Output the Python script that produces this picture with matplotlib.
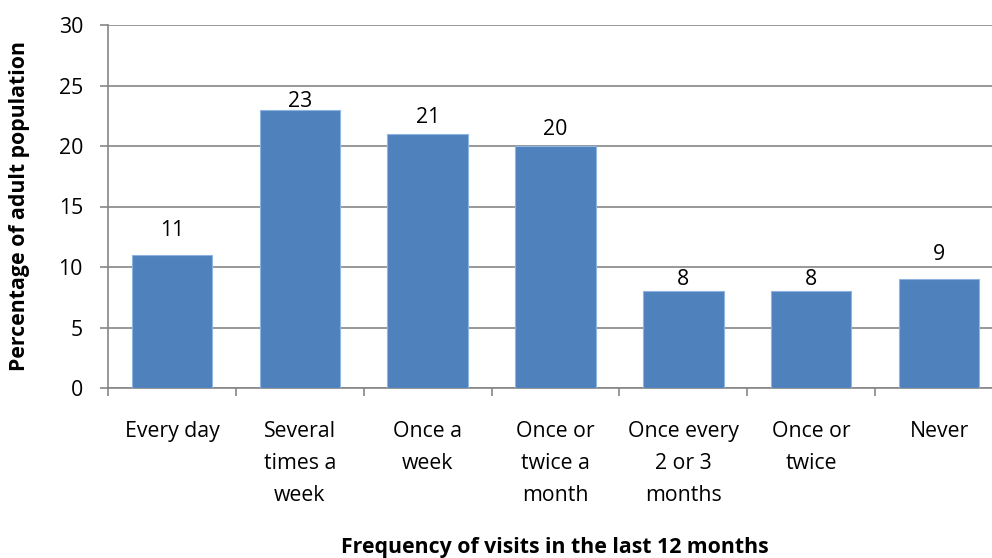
import matplotlib.pyplot as plt
import numpy as np

plt.rcParams["font.family"] = ["Open Sans", "DejaVu Sans"]

categories = [
    "Every day",
    "Several\ntimes a\nweek",
    "Once a\nweek",
    "Once or\ntwice a\nmonth",
    "Once every\n2 or 3\nmonths",
    "Once or\ntwice",
    "Never",
]
values = [11, 23, 21, 20, 8, 8, 9]
y_ticks = [0, 5, 10, 15, 20, 25, 30]
# gap (points) between each value label and its bar, as placed in the original
label_gaps = [13.5, 2.2, 8, 8, 4.3, 4.3, 13.5]

FS = 15.3

fig = plt.figure(figsize=(9.92, 5.58), dpi=100)
ax = fig.add_axes([108 / 992, 1 - 388 / 558, 895 / 992, 363 / 558])

x = np.arange(len(categories))
bars = ax.bar(x, values, width=0.63, color="#4F81BD", edgecolor="#8EB4E3",
              linewidth=0.8, zorder=3)

for b, v, g in zip(bars, values, label_gaps):
    ax.annotate(str(v), (b.get_x() + b.get_width() / 2, v), xytext=(0, g),
                textcoords="offset points", ha="center", va="baseline",
                fontsize=FS)

ax.set_xlim(-0.5, len(categories) - 0.5)
ax.set_ylim(0, 30)
ax.set_yticks(y_ticks)
ax.yaxis.grid(True, color="#868686", linewidth=1.2, zorder=0)

# category labels between boundary ticks
ax.set_xticks(np.arange(len(categories) + 1) - 0.5)
ax.set_xticklabels([])
ax.set_xticks(x, minor=True)
ax.set_xticklabels(categories, minor=True, fontsize=FS, linespacing=1.68)
ax.tick_params(axis="x", which="minor", length=0, pad=24)
ax.tick_params(axis="x", which="major", length=6, color="#868686", width=1.2)
ax.tick_params(axis="y", length=6, color="#868686", width=1.2, labelsize=FS, pad=12)

for side in ["top", "right"]:
    ax.spines[side].set_visible(False)
for side in ["left", "bottom"]:
    ax.spines[side].set_color("#868686")
    ax.spines[side].set_linewidth(1.2)

fig.text(20 / 992, 1 - 206 / 558, "Percentage of adult population",
         rotation=90, ha="center", va="center", fontsize=FS, fontweight="bold")
fig.text(555 / 992, 1 - 547 / 558, "Frequency of visits in the last 12 months",
         ha="center", va="center", fontsize=FS, fontweight="bold")

fig.savefig("out.png", dpi=100)
